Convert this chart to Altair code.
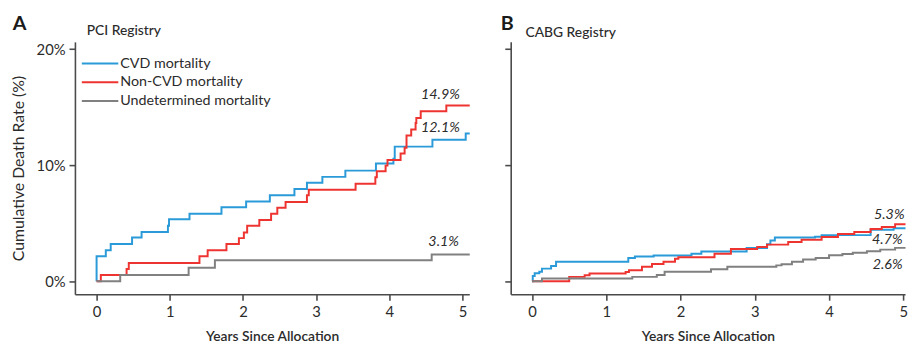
import altair as alt
import pandas as pd

# ---------------- data ----------------
series_names = ["CVD mortality", "Non-CVD mortality", "Undetermined mortality"]
series_colors = ["#2b9ad8", "#ee3431", "#808080"]

# Panel A - PCI Registry
a_cvd_t = [0, 0.0, 0.126, 0.193, 0.485, 0.615, 0.975, 0.99, 1.27, 1.707, 2.044, 2.368, 2.704,
           2.875, 3.086, 3.40, 3.818, 4.057, 4.075, 4.59, 5.045, 5.1]
a_cvd_v = [0, 2.15, 2.66, 3.2, 3.77, 4.23, 4.77, 5.34, 5.81, 6.38, 6.87, 7.4, 7.94,
           8.48, 8.99, 9.53, 10.15, 10.55, 11.6, 12.2, 12.74, 12.74]
a_non_t = [0, 0.058, 0.41, 0.44, 1.406, 1.518, 1.775, 1.945, 2.013, 2.058, 2.224, 2.385, 2.47,
           2.583, 2.875, 2.9, 3.54, 3.81, 3.83, 3.95, 3.976, 4.155, 4.21, 4.236, 4.30, 4.36,
           4.37, 4.43, 4.78, 5.1]
a_non_v = [0, 0.54, 1.05, 1.56, 2.15, 2.66, 3.2, 3.71, 4.2, 4.77, 5.28, 5.81, 6.32,
           6.83, 7.4, 7.89, 8.4, 8.96, 9.47, 9.96, 10.44, 11.0, 11.5, 12.56, 13.08, 13.64,
           14.07, 14.64, 15.15, 15.15]
a_und_t = [0, 0.323, 1.258, 1.617, 4.58, 5.1]
a_und_v = [0, 0.54, 1.16, 1.81, 2.3, 2.3]
a_labels = ["12.1%", "14.9%", "3.1%"]

# Panel B - CABG Registry
b_cvd_t = [0, 0.009, 0.035, 0.097, 0.133, 0.256, 0.323, 1.296, 1.385, 1.637, 2.147, 2.28,
           2.89, 3.165, 3.21, 3.27, 3.81, 3.9, 4.56, 4.87, 5.03]
b_cvd_v = [0, 0.45, 0.68, 0.82, 1.08, 1.3, 1.68, 1.99, 2.13, 2.21, 2.36, 2.55,
           2.85, 3.18, 3.5, 3.76, 3.83, 3.97, 4.43, 4.57, 4.57]
b_non_t = [0, 0.5, 0.708, 0.774, 1.26, 1.305, 1.48, 1.615, 1.77, 1.925, 1.97, 2.457, 2.678,
           3.032, 3.165, 3.45, 3.63, 3.9, 4.12, 4.34, 4.56, 4.71, 4.89, 5.03]
b_non_v = [0, 0.37, 0.51, 0.66, 0.79, 0.94, 1.25, 1.48, 1.68, 1.93, 2.07, 2.36, 2.78,
           2.95, 3.15, 3.38, 3.57, 3.8, 4.06, 4.23, 4.5, 4.66, 4.91, 4.91]
b_und_t = [0, 0.133, 1.35, 1.68, 1.785, 2.41, 2.63, 3.29, 3.36, 3.5, 3.65, 3.82, 4.0, 4.18,
           4.32, 4.51, 4.69, 4.89, 5.03]
b_und_v = [0, 0.23, 0.37, 0.54, 0.82, 1.02, 1.25, 1.36, 1.45, 1.68, 1.87, 2.0, 2.24, 2.34,
           2.44, 2.58, 2.72, 2.87, 2.87]
b_labels = ["4.7%", "5.3%", "2.6%"]

x_ticks = [0, 1, 2, 3, 4, 5]
y_ticks = [0, 10, 20]

FONT = "Lato"
TXT = "#2b2b2b"
AX = "#4a4a4a"
Y_DOMAIN = [-1.13, 20.63]
W, H = 400, 256


def frame(ts, vs, name):
    return pd.DataFrame({"t": ts, "v": vs, "s": name, "o": list(range(len(ts)))})


def panel(series, xdom, letter, title, labels, label_dy, label_dx, first):
    layers = []
    for (ts, vs), name, col in zip(series, series_names, series_colors):
        df = frame(ts, vs, name)
        layers.append(
            alt.Chart(df).mark_line(interpolate="step-after", strokeWidth=2, color=col).encode(
                x=alt.X("t:Q", scale=alt.Scale(domain=xdom, nice=False, zero=False),
                        axis=alt.Axis(values=x_ticks, title="Years Since Allocation", grid=False,
                                      format="d", labelFlush=False)),
                y=alt.Y("v:Q", scale=alt.Scale(domain=Y_DOMAIN, nice=False, zero=False),
                        axis=alt.Axis(values=y_ticks, grid=False,
                                      title="Cumulative Death Rate (%)" if first else None,
                                      labels=first, labelExpr="datum.value + '%'")),
                order="o:Q",
            )
        )
    # end-of-curve labels
    for (ts, vs), lab, dy, dx in zip(series, labels, label_dy, label_dx):
        ldf = pd.DataFrame({"t": [ts[-1]], "v": [vs[-1]], "lab": [lab]})
        layers.append(
            alt.Chart(ldf).mark_text(align="right", baseline="middle", fontSize=14.5,
                                     fontStyle="italic", font=FONT, color=TXT, dx=dx, dy=dy)
            .encode(x="t:Q", y="v:Q", text="lab:N")
        )
    # panel letter and registry name
    layers.append(alt.Chart(pd.DataFrame({"k": [letter]})).mark_text(
        align="left", baseline="alphabetic", fontSize=20, fontWeight="bold", font=FONT, color="#1a1a1a")
        .encode(x=alt.value(-63 if first else -10), y=alt.value(-12), text="k:N"))
    layers.append(alt.Chart(pd.DataFrame({"k": [title]})).mark_text(
        align="left", baseline="alphabetic", fontSize=14, fontWeight=500, font=FONT, color=TXT)
        .encode(x=alt.value(12 if first else 15), y=alt.value(-7 if first else -5), text="k:N"))
    if first:
        for i, (name, col) in enumerate(zip(series_names, series_colors)):
            ypix = 22 + 19 * i
            layers.append(alt.Chart(pd.DataFrame({"k": [name]})).mark_rule(color=col, strokeWidth=2)
                          .encode(x=alt.value(7), x2=alt.value(44), y=alt.value(ypix)))
            layers.append(alt.Chart(pd.DataFrame({"k": [name]})).mark_text(
                align="left", baseline="middle", fontSize=14.5, font=FONT, color=TXT)
                .encode(x=alt.value(46), y=alt.value(ypix), text="k:N"))
    return alt.layer(*layers).properties(width=W, height=H)


pA = panel([(a_cvd_t, a_cvd_v), (a_non_t, a_non_v), (a_und_t, a_und_v)],
           [-0.296, 5.094], "A", "PCI Registry", a_labels,
           label_dy=[-5, -11, -13], label_dx=[-10, -10, -11], first=True)
pB = panel([(b_cvd_t, b_cvd_v), (b_non_t, b_non_v), (b_und_t, b_und_v)],
           [-0.288, 5.024], "B", "CABG Registry", b_labels,
           label_dy=[12, -9, 17], label_dx=[-3, -1, -3], first=False)

chart = alt.hconcat(pA, pB, spacing=27).properties(
    padding={"left": 10, "top": 12, "right": 0, "bottom": 0},
    background="white",
).configure_view(stroke=None).configure_axis(
    domainColor=AX, domainWidth=1.6, tickColor=AX, tickWidth=1.6, tickSize=6,
    labelFont=FONT, labelFontSize=15, labelColor=TXT, labelPadding=4,
    titleFont=FONT, titleFontSize=14, titleColor=TXT, titleFontWeight=600,
).configure_axisX(labelPadding=5, titlePadding=10).configure_axisY(
    titlePadding=10, titleFontSize=16, titleFontWeight=400)

chart.save("out.html", embed_options={"renderer": "svg", "actions": False})
